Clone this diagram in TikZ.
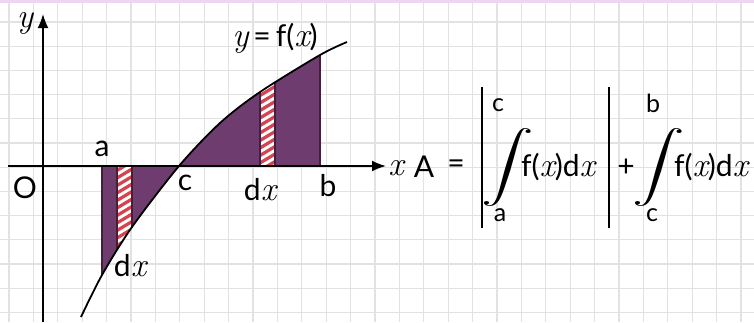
\documentclass[tikz,border=0pt]{standalone}
\usepackage{fontspec}
\setsansfont{Lato}
\usetikzlibrary{arrows.meta}
\definecolor{fillpurple}{RGB}{110,60,110}
\definecolor{hatchred}{RGB}{214,66,78}
\definecolor{edgedark}{RGB}{70,30,60}
\definecolor{gridgray}{RGB}{226,226,228}
\definecolor{topband}{RGB}{238,214,240}
\newcommand\ix{{\rmfamily\itshape\fontsize{34}{36}\selectfont x}}
\newcommand\iy{{\rmfamily\itshape\fontsize{34}{36}\selectfont y}}
\newcommand\bigint{\scalebox{1.5}[1]{\resizebox*{!}{78pt}{$\displaystyle\int$}}}
\begin{document}
\begin{tikzpicture}[x=1pt,y=-1pt,
  lbl/.style={font=\sffamily\fontsize{30}{34}\selectfont, inner sep=0pt},
  lim/.style={font=\sffamily\fontsize{25}{28}\selectfont, inner sep=0pt},
  axisline/.style={line width=1.7pt, -{Latex[length=14pt,width=11pt]}},
  gridline/.style={gridgray, line width=1.3pt},
  barline/.style={line width=1.8pt},
  edgeline/.style={edgedark, line width=1.5pt}]
\useasboundingbox (0,0) rectangle (754,322);
\fill[white] (0,0) rectangle (754,322);
% grid paper
\foreach \k in {0,...,30} \draw[gridline] ({9+24.4*\k},0) -- ({9+24.4*\k},322);
\foreach \k in {0,...,12} \draw[gridline] (0,{22+24.2*\k}) -- (754,{22+24.2*\k});
\fill[topband] (0,0) rectangle (754,2.5);
% shaded area between curve and axis, a..b
\begin{scope}
  \clip (102,0) rectangle (320,322);
  \fill[fillpurple] plot[smooth] coordinates {(81,317) (102,275) (132,227) (179,166) (220,123) (260,92) (320,55) (347,42)} -- (347,166) -- (81,166) -- cycle;
\end{scope}
% hatched strips
\foreach \xl/\xr in {117/132, 260/275} {
  \begin{scope}
    \clip (\xl,0) rectangle (\xr,322);
    \clip plot[smooth] coordinates {(81,317) (102,275) (132,227) (179,166) (220,123) (260,92) (320,55) (347,42)} -- (347,166) -- (81,166) -- cycle;
    \fill[white] (\xl,0) rectangle (\xr,322);
    \foreach \v in {40,47.5,...,400} \draw[hatchred, line width=3.2pt] ({\xl-20},\v) -- ++(60,-36);
  \end{scope}
}
% edges of strips and boundaries
\begin{scope}
  \clip plot[smooth] coordinates {(81,317) (102,275) (132,227) (179,166) (220,123) (260,92) (320,55) (347,42)} -- (347,166) -- (81,166) -- cycle;
  \foreach \xx in {102,117,132,260,275,320} \draw[edgeline] (\xx,0) -- (\xx,322);
\end{scope}
% axes
\coordinate (xs) at (8,166);
\coordinate (xe) at (386,166);
\coordinate (ys) at (43,322);
\coordinate (ye) at (43,14);
\draw[axisline] (xs) -- (xe);
\draw[axisline] (ys) -- (ye);
% curve
\draw[line width=1.8pt] plot[smooth] coordinates {(81,317) (102,275) (132,227) (179,166) (220,123) (260,92) (320,55) (347,42)};
% labels
\node[lbl] (ylab) at (25,23) {\iy};
\node[lbl] (O) at (25,188) {O};
\node[lbl] (alab) at (102,149) {a};
\node[lbl] (clab) at (185,183) {c};
\node[lbl] (blab) at (328,186) {b};
\node[lbl] (dx1) at (130,266) {d\ix};
\node[lbl] (dx2) at (260,190) {d\ix};
\node[lbl] (fl) at (275,38) {\iy\,=\,f(\ix)};
% formula
\node[lbl] (xl) at (396,168) {\ix};
\node[lbl] (A) at (424,167) {A};
\node[lbl] (eq) at (456,167) {=};
\coordinate (b1t) at (482,87);
\coordinate (b1b) at (482,228);
\draw[barline] (b1t) -- (b1b);
\node[inner sep=0pt] (int1) at (508,167) {\bigint};
\node[lim] (c1) at (498,105) {c};
\node[lim] (a1) at (500,215) {a};
\node[lbl] (f1) at (558,167) {f(\ix)d\ix};
\coordinate (b2t) at (609,87);
\coordinate (b2b) at (609,228);
\draw[barline] (b2t) -- (b2b);
\node[lbl] (plus) at (626,168) {+};
\node[inner sep=0pt] (int2) at (659,167) {\bigint};
\node[lim] (b2) at (653,103) {b};
\node[lim] (c2) at (652,215) {c};
\node[lbl] (f2) at (711,167) {f(\ix)d\ix};
\end{tikzpicture}
\end{document}
